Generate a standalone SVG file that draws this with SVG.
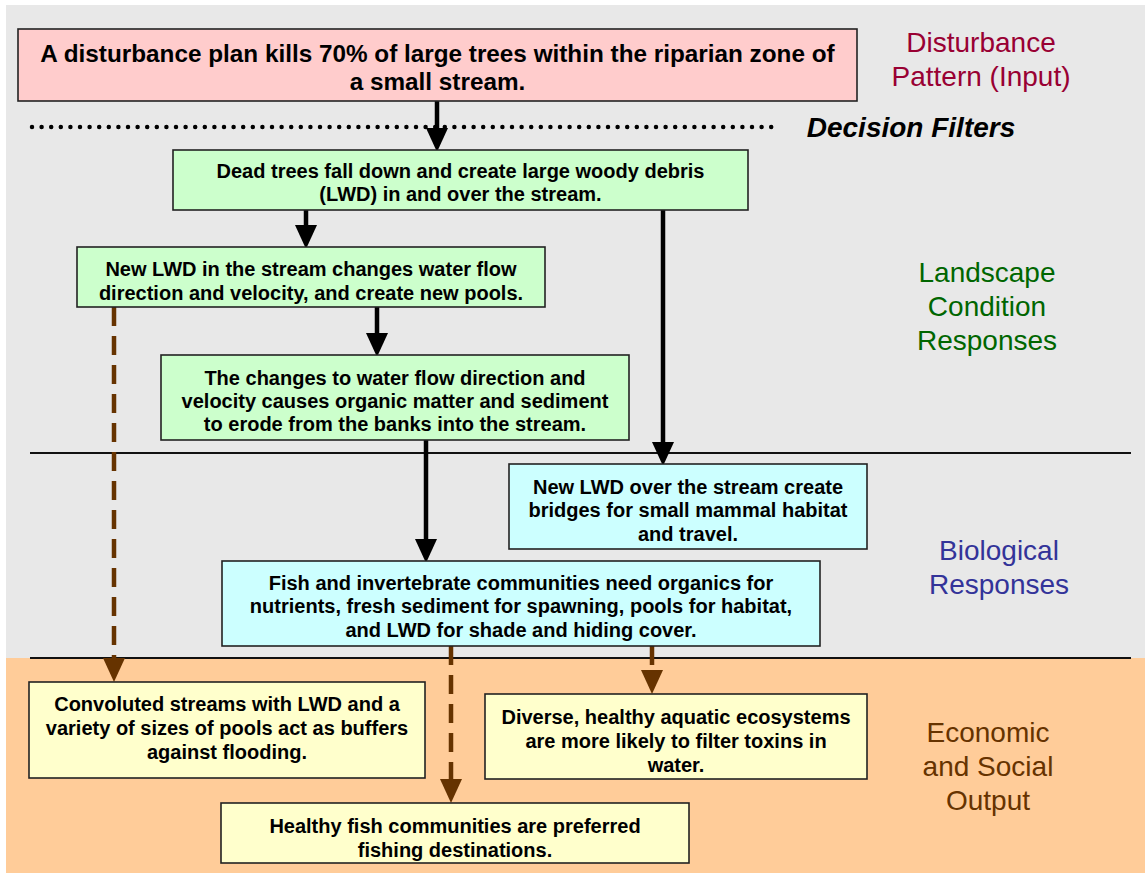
<svg xmlns="http://www.w3.org/2000/svg" width="1145" height="873" viewBox="0 0 1145 873">
  <defs>
    <style>
      .box { stroke: #222222; stroke-width: 1.6; }
      .pink { fill: #FFCCCC; }
      .green { fill: #CCFFCC; }
      .cyan { fill: #CCFFFF; }
      .yellow { fill: #FFFFCC; }
      .bt { font-family: "Liberation Sans", Arial, sans-serif; font-weight: bold; font-size: 20px; fill: #000; text-anchor: middle; }
      .bt24 { font-size: 24.3px; }
      .side { font-family: "Liberation Sans", Arial, sans-serif; font-size: 28px; text-anchor: middle; }
      .blk { stroke: #000; stroke-width: 4.5; fill: none; }
      .brn { stroke: #663300; stroke-width: 4.5; fill: none; }
      .dash { stroke-dasharray: 19 10; }
      .sep { stroke: #111; stroke-width: 1.8; }
    </style>
    <marker id="ah" viewBox="0 0 24 22" refX="0" refY="11" markerWidth="24" markerHeight="22" markerUnits="userSpaceOnUse" orient="auto">
      <path d="M0,0 L24,11 L0,22 z" fill="#000"/>
    </marker>
    <marker id="ahb" viewBox="0 0 24 22" refX="0" refY="11" markerWidth="24" markerHeight="22" markerUnits="userSpaceOnUse" orient="auto">
      <path d="M0,0 L24,11 L0,22 z" fill="#663300"/>
    </marker>
  </defs>

  <rect x="0" y="0" width="1145" height="873" fill="#FFFFFF"/>
  <rect x="6" y="5" width="1139" height="653" fill="#E8E8E8"/>
  <rect x="6" y="658" width="1139" height="215" fill="#FFCC99"/>

  <g id="separators">
    <line class="sep" x1="30" y1="453" x2="1131" y2="453"/>
    <line class="sep" x1="30" y1="658" x2="1131" y2="658"/>
    <line x1="32" y1="127" x2="778" y2="127" stroke="#000" stroke-width="4.5" stroke-linecap="round" stroke-dasharray="0 9.6"/>
  </g>

  <g id="labels">
    <text class="side" fill="#990033" x="981" y="52">Disturbance</text>
    <text class="side" fill="#990033" x="981" y="86">Pattern (Input)</text>
    <text class="side" x="911" y="137" font-weight="bold" font-style="italic" fill="#000">Decision Filters</text>
    <text class="side" fill="#006600" x="987" y="282">Landscape</text>
    <text class="side" fill="#006600" x="987" y="316">Condition</text>
    <text class="side" fill="#006600" x="987" y="350">Responses</text>
    <text class="side" fill="#333399" x="999" y="560">Biological</text>
    <text class="side" fill="#333399" x="999" y="594">Responses</text>
    <text class="side" fill="#663300" x="988" y="742">Economic</text>
    <text class="side" fill="#663300" x="988" y="776">and Social</text>
    <text class="side" fill="#663300" x="988" y="810">Output</text>
  </g>

  <g id="connectors">
    <line class="blk" x1="437" y1="101" x2="437" y2="128" marker-end="url(#ah)"/>
    <line class="blk" x1="306" y1="210" x2="306" y2="225" marker-end="url(#ah)"/>
    <line class="blk" x1="377" y1="307" x2="377" y2="333" marker-end="url(#ah)"/>
    <line class="blk" x1="663" y1="210" x2="663" y2="442" marker-end="url(#ah)"/>
    <line class="blk" x1="426" y1="440" x2="426" y2="539" marker-end="url(#ah)"/>
    <line class="brn dash" x1="114" y1="307" x2="114" y2="658" marker-end="url(#ahb)"/>
    <line class="brn dash" x1="451" y1="646" x2="451" y2="779" marker-end="url(#ahb)"/>
    <line class="brn dash" x1="652" y1="646" x2="652" y2="670" marker-end="url(#ahb)"/>
  </g>

  <g id="node-disturbance">
    <rect class="box pink" x="18" y="29" width="839" height="72"/>
    <text class="bt bt24" x="437.5" y="62">A disturbance plan kills 70% of large trees within the riparian zone of</text>
    <text class="bt bt24" x="437.5" y="90">a small stream.</text>
  </g>

  <g id="node-dead-trees">
    <rect class="box green" x="173" y="150" width="575" height="60"/>
    <text class="bt" x="460.5" y="178">Dead trees fall down and create large woody debris</text>
    <text class="bt" x="460.5" y="201">(LWD) in and over the stream.</text>
  </g>

  <g id="node-new-lwd-flow">
    <rect class="box green" x="77" y="247" width="468" height="60"/>
    <text class="bt" x="311" y="276">New LWD in the stream changes water flow</text>
    <text class="bt" x="311" y="300">direction and velocity, and create new pools.</text>
  </g>

  <g id="node-erosion">
    <rect class="box green" x="161" y="355" width="468" height="85"/>
    <text class="bt" x="395" y="385">The changes to water flow direction and</text>
    <text class="bt" x="395" y="408">velocity causes organic matter and sediment</text>
    <text class="bt" x="395" y="431">to erode from the banks into the stream.</text>
  </g>

  <g id="node-bridges">
    <rect class="box cyan" x="509" y="464" width="358" height="85"/>
    <text class="bt" x="688" y="494">New LWD over the stream create</text>
    <text class="bt" x="688" y="517">bridges for small mammal habitat</text>
    <text class="bt" x="688" y="541">and travel.</text>
  </g>

  <g id="node-fish">
    <rect class="box cyan" x="222" y="561" width="598" height="85"/>
    <text class="bt" x="521" y="590">Fish and invertebrate communities need organics for</text>
    <text class="bt" x="521" y="613">nutrients, fresh sediment for spawning, pools for habitat,</text>
    <text class="bt" x="521" y="637">and LWD for shade and hiding cover.</text>
  </g>

  <g id="node-flooding">
    <rect class="box yellow" x="29" y="682" width="396" height="96"/>
    <text class="bt" x="227" y="711">Convoluted streams with LWD and a</text>
    <text class="bt" x="227" y="735">variety of sizes of pools act as buffers</text>
    <text class="bt" x="227" y="759">against flooding.</text>
  </g>

  <g id="node-toxins">
    <rect class="box yellow" x="485" y="694" width="382" height="85"/>
    <text class="bt" x="676" y="724">Diverse, healthy aquatic ecosystems</text>
    <text class="bt" x="676" y="748">are more likely to filter toxins in</text>
    <text class="bt" x="676" y="772">water.</text>
  </g>

  <g id="node-fishing">
    <rect class="box yellow" x="221" y="803" width="468" height="60"/>
    <text class="bt" x="455" y="833">Healthy fish communities are preferred</text>
    <text class="bt" x="455" y="857">fishing destinations.</text>
  </g>
</svg>
